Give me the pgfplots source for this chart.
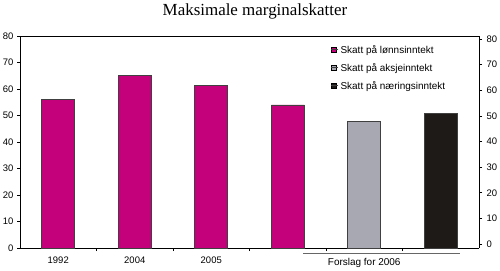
\documentclass[border=0pt]{standalone}
\usepackage{pgfplots}
\pgfplotsset{compat=1.18}
\usepackage{fontspec}
\setmainfont{Liberation Sans}
\newfontfamily\titlefont{Liberation Serif}
\definecolor{magb}{HTML}{C4007A}
\definecolor{grayb}{HTML}{A8A8B2}
\definecolor{blackb}{HTML}{1E1A18}
\definecolor{edge}{HTML}{404040}
\begin{document}
\begin{tikzpicture}[x=1bp,y=1bp]
\useasboundingbox (0,0) rectangle (500,270);
\node[font=\titlefont\fontsize{17}{20}\selectfont, anchor=base] at (255,254.5) {Maksimale marginalskatter};
\begin{axis}[
  at={(20bp,22bp)}, anchor=south west,
  scale only axis, width=459bp, height=212bp,
  xmin=-0.5, xmax=5.5, ymin=0, ymax=80,
  axis y line*=left, axis x line*=bottom,
  ytick={0,10,...,80},
  xtick={0,1,2}, xticklabels={1992,2004,2005},
  major x tick style={draw=none},
  minor xtick={0.5,1.5,2.5,3.5,4.5},
  tick align=outside,
  major tick length=3bp, minor tick length=3bp,
  tick style={black, line width=0.6pt},
  minor tick style={black, line width=0.6pt},
  axis line style={black, line width=0.7pt},
  ticklabel style={font=\fontsize{9.5}{10}\selectfont},
  /pgf/number format/assume math mode=true,
  xticklabel style={yshift=-2bp},
  clip=false,
  legend style={draw=none, fill=none, at={(0.676,0.968)}, anchor=north west,
     font=\fontsize{10}{11}\selectfont, row sep=4.5bp, inner sep=0pt},
  legend cell align=left,
]
\addplot[ybar, bar width=33bp, bar shift=0pt, fill=magb, draw=edge, line width=0.6pt,
  legend image code/.code={\draw[fill=magb,draw=black,line width=0.4pt] (0bp,-2.6bp) rectangle (5.5bp,2.9bp); \path (0,0) -- (7.5bp,0);}]
  coordinates {(0,56) (1,65) (2,61.5) (3,54)};
\addlegendentry{Skatt på lønnsinntekt}
\addplot[ybar, bar width=33bp, bar shift=0pt, fill=grayb, draw=edge, line width=0.6pt,
  legend image code/.code={\draw[fill=grayb,draw=black,line width=0.4pt] (0bp,-2.6bp) rectangle (5.5bp,2.9bp); \path (0,0) -- (7.5bp,0);}]
  coordinates {(4,48)};
\addlegendentry{Skatt på aksjeinntekt}
\addplot[ybar, bar width=33bp, bar shift=0pt, fill=blackb, draw=edge, line width=0.6pt,
  legend image code/.code={\draw[fill=blackb,draw=black,line width=0.4pt] (0bp,-2.6bp) rectangle (5.5bp,2.9bp); \path (0,0) -- (7.5bp,0);}]
  coordinates {(5,51)};
\addlegendentry{Skatt på næringsinntekt}
\draw[black!60, line width=0.8pt] (axis cs:2.70,0) ++(0,-5bp) -- ([yshift=-5bp]axis cs:5.25,0);
\node[font=\fontsize{10}{11}\selectfont, anchor=base] at ([yshift=-17bp]axis cs:4.0,0) {Forslag for 2006};
\draw[black, line width=0.7pt] (rel axis cs:0,1) -- (rel axis cs:1,1);
\end{axis}
\begin{axis}[
  at={(20bp,22bp)}, anchor=south west,
  scale only axis, width=459bp, height=212bp,
  xmin=-0.5, xmax=5.5, ymin=-1.56, ymax=81.17,
  axis y line*=right, axis x line=none,
  ytick={0,10,...,80},
  tick align=outside, major tick length=3bp,
  tick style={black, line width=0.6pt},
  axis line style={black, line width=0.7pt},
  ticklabel style={font=\fontsize{9.5}{10}\selectfont},
  /pgf/number format/assume math mode=true,
  yticklabel style={xshift=1bp},
]
\addplot[draw=none] coordinates {(0,0)};
\end{axis}
\end{tikzpicture}
\end{document}
